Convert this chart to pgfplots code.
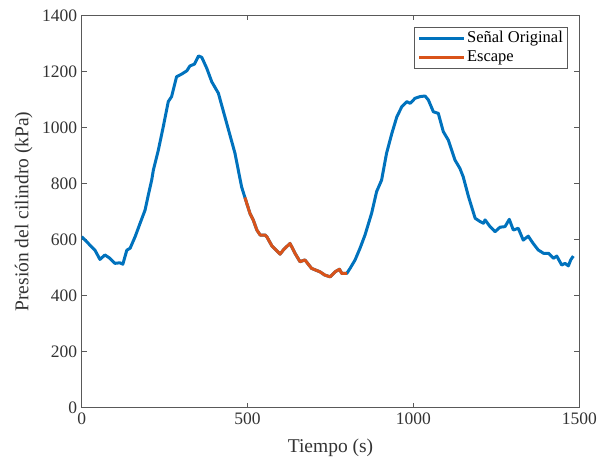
\documentclass[border=0pt]{standalone}
\usepackage{fontspec}
\setmainfont{Liberation Serif}
\usepackage{pgfplots}
\pgfplotsset{compat=1.18}
\definecolor{mblue}{rgb}{0,0.447,0.741}
\definecolor{morange}{rgb}{0.85,0.325,0.098}
\definecolor{axgray}{rgb}{0.35,0.35,0.35}
\definecolor{txtgray}{rgb}{0.2,0.2,0.2}
\begin{document}
\begin{tikzpicture}
\path[use as bounding box] (-81.7pt,-53.3pt) rectangle (525.3pt,407.7pt);
\begin{axis}[
  scale only axis,
  width=497.6pt, height=392.4pt,
  at={(0,0)}, anchor=south west,
  xmin=0, xmax=1500, ymin=0, ymax=1400,
  xtick={0,500,1000,1500},
  ytick={0,200,...,1400},
  tick align=inside,
  major tick length=5pt,
  axis line style={axgray, line width=0.8pt},
  every tick/.style={axgray, line width=0.7pt},
  /pgf/number format/assume math mode=true,
  /pgf/number format/set thousands separator={},
  ticklabel style={font=\fontsize{17.5}{20}\selectfont, text=txtgray},
  xticklabel style={yshift=-2pt},
  yticklabel style={xshift=-1pt},
  xlabel={Tiempo (s)},
  ylabel={Presión del cilindro (kPa)},
  label style={font=\fontsize{19.5}{22}\selectfont, text=txtgray},
  xlabel style={at={(axis description cs:0.5,-0.102)}, anchor=center},
  ylabel style={at={(axis description cs:-0.1166,0.5)}, anchor=center, rotate=0},
  legend style={at={(axis description cs:1,1)}, anchor=north east,
    xshift=-11.6pt, yshift=-12pt, draw=axgray, line width=0.7pt,
    font=\fontsize{16.5}{18}\selectfont, inner xsep=3pt, inner ysep=1.5pt, row sep=0pt,
    nodes={inner sep=1.5pt, text height=12pt, text depth=4pt},
    cells={anchor=west}},
  legend image code/.code={\draw[#1, line width=3pt] (0pt,0pt) -- (45pt,0pt);},
  legend cell align=left,
]
\addplot[mblue, line width=3pt, line join=round] coordinates {
(0,610) (25,580) (40,562) (55,529) (70,545) (85,533) (100,515) (115,517) (124,512)
(136,562) (146,569) (161,610) (176,658) (191,705) (201,760) (211,812) (216,848)
(231,919) (246,1003) (261,1092) (271,1110) (286,1181) (301,1190) (317,1202)
(326,1219) (340,1226) (352,1255) (362,1250) (377,1211) (392,1163) (412,1122)
(437,1015) (462,908) (482,788) (492,750)
(507,694) (517,670) (528,634) (538,616) (553,616) (558,610) (573,578) (598,548)
(608,563) (613,569) (628,586) (643,551) (658,521) (673,527) (693,497) (718,485)
(733,473) (749,467) (764,485) (777,494) (784,479) (799,479)
(809,497) (824,527) (839,569) (854,616) (874,694) (889,771) (904,812) (919,908)
(935,979) (950,1038) (965,1074) (980,1092) (990,1086) (1005,1104) (1020,1110)
(1035,1112) (1045,1098) (1060,1056) (1075,1050) (1090,985) (1105,955) (1125,884)
(1140,854) (1150,824) (1166,753) (1186,676) (1201,664) (1211,658) (1216,670)
(1231,646) (1246,628) (1261,644) (1276,646) (1289,672) (1301,634) (1316,640)
(1331,598) (1346,612) (1361,586) (1376,563) (1392,551) (1407,551) (1422,533)
(1432,541) (1447,509) (1457,515) (1467,506) (1474,527) (1482,541)
};
\addlegendentry{Señal Original}
\addplot[morange, line width=3pt, line join=round] coordinates {
(492,750) (507,694) (517,670) (528,634) (538,616) (553,616) (558,610) (573,578) (598,548)
(608,563) (613,569) (628,586) (643,551) (658,521) (673,527) (693,497) (718,485)
(733,473) (749,467) (764,485) (777,494) (784,479) (799,479)
};
\addlegendentry{Escape}
\end{axis}
\end{tikzpicture}
\end{document}
